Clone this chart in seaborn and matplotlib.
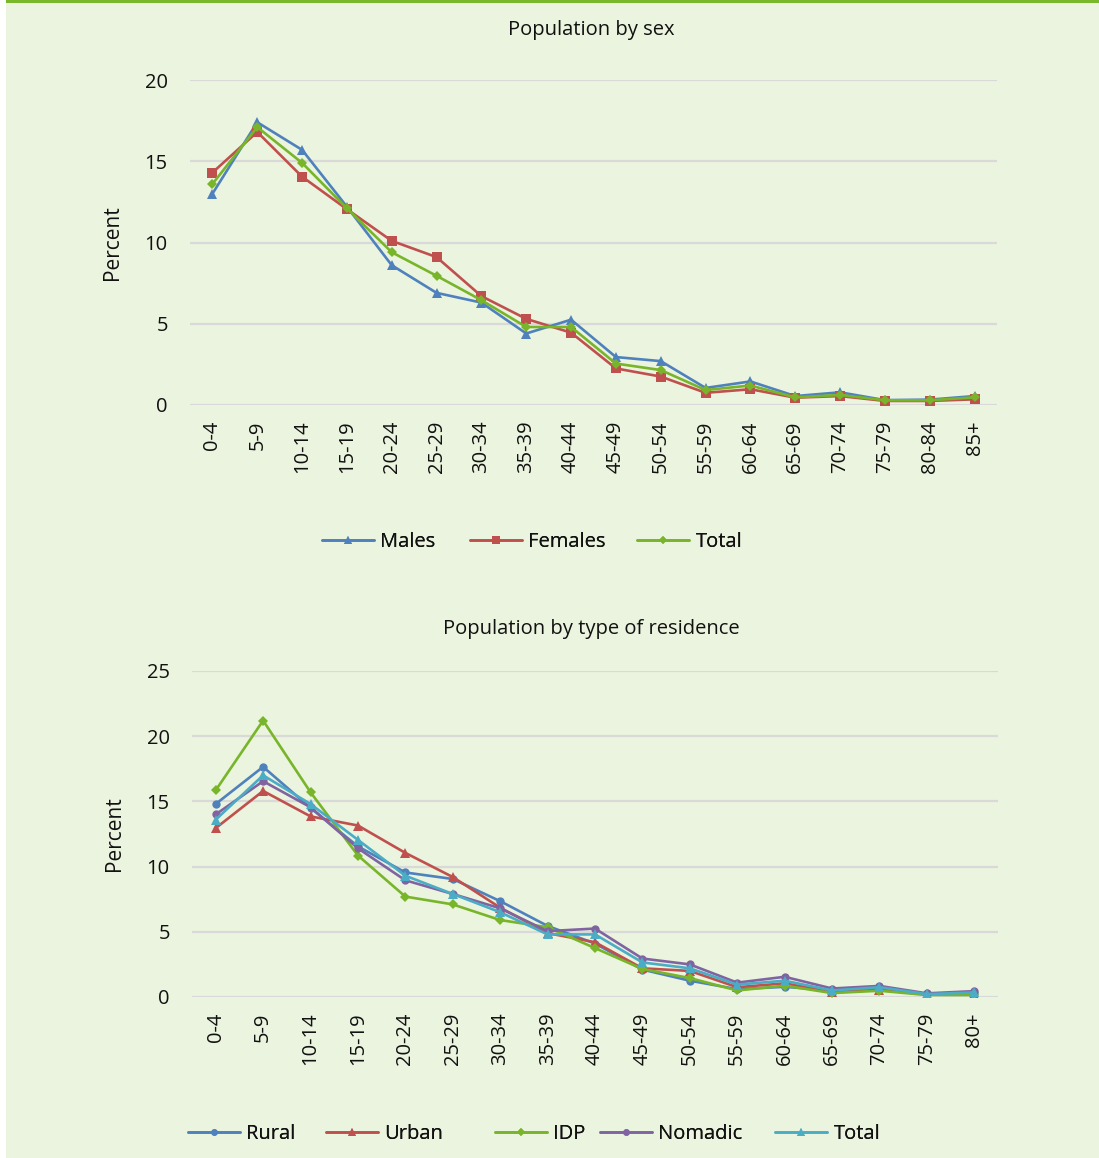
import numpy as np
import pandas as pd
import matplotlib
matplotlib.use("Agg")
import matplotlib.pyplot as plt
from matplotlib.patches import Rectangle
import seaborn as sns

# Age groups
ages_sex = ["0-4", "5-9", "10-14", "15-19", "20-24", "25-29", "30-34", "35-39",
            "40-44", "45-49", "50-54", "55-59", "60-64", "65-69", "70-74",
            "75-79", "80-84", "85+"]
ages_res = ["0-4", "5-9", "10-14", "15-19", "20-24", "25-29", "30-34", "35-39",
            "40-44", "45-49", "50-54", "55-59", "60-64", "65-69", "70-74",
            "75-79", "80+"]

# Population by sex (percent)
males = [13.0, 17.4, 15.7, 12.2, 8.6, 6.9, 6.3, 4.4, 5.25, 2.95, 2.7, 1.05,
         1.45, 0.55, 0.78, 0.3, 0.33, 0.55]
females = [14.3, 16.8, 14.05, 12.05, 10.1, 9.1, 6.7, 5.3, 4.45, 2.25, 1.75,
           0.75, 0.97, 0.45, 0.55, 0.25, 0.25, 0.35]
total_sex = [13.6, 17.1, 14.9, 12.1, 9.4, 7.95, 6.45, 4.8, 4.8, 2.55, 2.15,
             0.92, 1.2, 0.47, 0.62, 0.29, 0.29, 0.47]

# Population by type of residence (percent)
rural = [14.8, 17.65, 14.5, 11.55, 9.55, 9.05, 7.35, 5.45, 4.1, 2.1, 1.25,
         0.6, 0.78, 0.5, 0.75, 0.22, 0.3]
urban = [12.95, 15.8, 13.85, 13.15, 11.05, 9.2, 6.85, 4.9, 4.2, 2.2, 2.0,
         0.75, 1.05, 0.38, 0.55, 0.2, 0.22]
idp = [15.85, 21.2, 15.7, 10.85, 7.7, 7.1, 5.9, 5.35, 3.75, 2.15, 1.45,
       0.5, 0.87, 0.3, 0.48, 0.15, 0.15]
nomadic = [14.0, 16.55, 14.55, 11.4, 8.95, 7.9, 6.8, 5.05, 5.25, 2.95, 2.5,
           1.1, 1.55, 0.65, 0.85, 0.28, 0.45]
total_res = [13.6, 17.0, 14.8, 12.05, 9.3, 7.9, 6.5, 4.8, 4.8, 2.65, 2.2,
             0.95, 1.25, 0.5, 0.75, 0.22, 0.35]

BG = "#EBF4DE"
GRID = "#D9D9D9"
BLUE = "#4F81BD"
RED = "#C0504D"
GREEN = "#78B52A"
PURPLE = "#8064A2"
CYAN = "#4BACC6"
FS = 14.5

sns.set_theme(style="white")
plt.rcParams["font.family"] = ["Open Sans", "DejaVu Sans"]
plt.rcParams["text.color"] = "#111111"

W, H = 1099, 1158
fig = plt.figure(figsize=(W / 100, H / 100), dpi=100, facecolor=BG)

# white strip on the left and green rule along the top
fig.patches.append(Rectangle((0, 0), 6 / W, 1, transform=fig.transFigure,
                             facecolor="white", edgecolor="none", zorder=-1))
fig.patches.append(Rectangle((6 / W, 1 - 3 / H), 1, 3 / H, transform=fig.transFigure,
                             facecolor="#79B82C", edgecolor="none", zorder=5))


def px_axes(left, top, right, bottom):
    return fig.add_axes([left / W, 1 - bottom / H, (right - left) / W, (bottom - top) / H])


def style_axes(ax, labels, ymax, step):
    ax.set_facecolor(BG)
    for s in ax.spines.values():
        s.set_visible(False)
    ax.set_xlim(-0.5, len(labels) - 0.5)
    ax.set_ylim(0, ymax)
    ax.set_yticks(np.arange(0, ymax + 0.1, step))
    ax.yaxis.grid(True, color=GRID, linewidth=1.6)
    ax.xaxis.grid(False)
    ax.set_axisbelow(True)
    ax.set_xticks(range(len(labels)))
    ax.set_xticklabels(labels, rotation=90, va="top", ha="center")
    ax.tick_params(axis="x", length=0, pad=11, labelsize=FS, labelcolor="#111111")
    ax.tick_params(axis="y", length=0, pad=16, labelsize=FS, labelcolor="#111111")
    ax.set_xlabel("")
    ax.set_ylabel("Percent", fontsize=FS + 0.5, color="#111111")
    ax.yaxis.set_label_coords(-0.083, 0.5)


def draw(ax, labels, series):
    idx = np.arange(len(labels))
    for name, vals, color, marker, ms in series:
        sns.lineplot(x=idx, y=vals, ax=ax, color=color, marker=marker,
                     markersize=ms, markeredgewidth=0, linewidth=1.9,
                     label=name, sort=False)


def place_legend(ax, line_starts, y_px):
    """One legend box per series, each anchored at its own x position."""
    handles, labels = ax.get_legend_handles_labels()
    if ax.get_legend():
        ax.get_legend().remove()
    for h, lab, x0 in zip(handles, labels, line_starts):
        leg = fig.legend([h], [lab], loc="center left",
                         bbox_to_anchor=(x0 / W, 1 - y_px / H),
                         frameon=False, fontsize=FS, handlelength=2.6,
                         handletextpad=0.3, borderpad=0, borderaxespad=0,
                         markerscale=0.8)
        fig.add_artist(leg)


# --- Population by sex ---
ax1 = px_axes(190, 80, 997, 405)
draw(ax1, ages_sex, [
    ("Males", males, BLUE, "^", 7),
    ("Females", females, RED, "s", 6.5),
    ("Total", total_sex, GREEN, "D", 5),
])
style_axes(ax1, ages_sex, 20, 5)
place_legend(ax1, [322, 470, 637], 542)
fig.text(591 / W, 1 - 30 / H, "Population by sex", ha="center", va="center",
         fontsize=FS)

# --- Population by type of residence ---
ax2 = px_axes(192, 671, 998, 997)
draw(ax2, ages_res, [
    ("Rural", rural, BLUE, "o", 6),
    ("Urban", urban, RED, "^", 7),
    ("IDP", idp, GREEN, "D", 5),
    ("Nomadic", nomadic, PURPLE, "o", 6),
    ("Total", total_res, CYAN, "^", 7),
])
style_axes(ax2, ages_res, 25, 5)
place_legend(ax2, [188, 326, 495, 600, 775], 1134)
fig.text(591 / W, 1 - 629 / H, "Population by type of residence", ha="center",
         va="center", fontsize=FS)

fig.savefig("out.png", dpi=100, facecolor=BG)
